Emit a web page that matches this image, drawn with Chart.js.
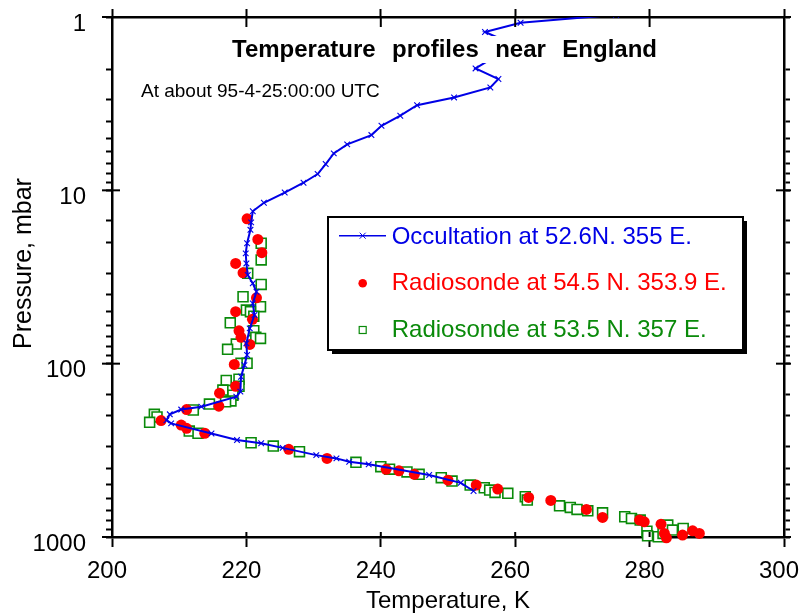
<!DOCTYPE html>
<html>
<head>
<meta charset="utf-8">
<script src="https://cdn.jsdelivr.net/npm/chart.js@4/dist/chart.umd.min.js"></script>
<style>
  html, body { margin: 0; padding: 0; background: #fff; }
  #wrap { width: 801px; height: 616px; position: relative; }
</style>
</head>
<body>
<div id="wrap"><canvas id="myChart"></canvas></div>
<script>
// occultation profile (temperature K, pressure mbar), top to bottom
const occTemp = [275.0, 260.8, 255.5, 259.9, 254.1, 257.5, 256.3, 250.9, 245.4, 242.9,
  240.1, 238.6, 235.0, 233.0, 231.8, 230.6, 228.5, 225.7, 222.6, 220.95,
  220.7, 220.6, 220.1, 219.9, 220.0, 220.2, 220.95, 221.5, 220.95, 221.2,
  220.5, 220.0, 220.1, 219.7, 219.2, 219.1, 218.5, 213.3, 210.3, 208.6,
  208.1, 208.8, 214.8, 218.6, 222.2, 225.4, 230.4, 233.4, 235.3, 238.2,
  247.2, 251.9, 253.8];
const occPres = [0.97, 1.08, 1.22, 1.45, 1.98, 2.28, 2.55, 2.91, 3.23, 3.71,
  4.24, 4.80, 5.43, 6.12, 7.05, 8.05, 9.04, 10.3, 11.8, 13.2,
  15.3, 16.9, 20.2, 23.1, 26.4, 30.8, 34.4, 38.5, 44.9, 52.4,
  62.6, 76.4, 89.2, 102, 119, 145, 155, 177, 184, 196,
  212, 221, 253, 276, 288, 306, 337, 352, 368, 381,
  439, 487, 543];

// radiosonde 54.5 N 353.9 E
const sondeATemp = [220.1, 221.7, 222.3, 218.4, 219.5, 221.5, 218.4, 220.9, 218.9, 219.2,
  220.5, 218.2, 218.4, 216.0, 215.9, 211.1, 207.3, 210.3, 211.1, 213.8,
  226.3, 232.0, 240.8, 242.7, 245.0, 250.0, 254.2, 257.4, 262.0, 265.3,
  270.6, 273.0, 278.5, 279.2, 281.7, 282.2, 282.5, 284.9, 286.4, 287.4];
const sondeAPres = [14.6, 19.2, 22.9, 26.4, 29.9, 41.7, 50.1, 55.5, 64.6, 70.5,
  77.4, 101, 135, 148, 176, 184, 213, 226, 236, 252,
  312, 352, 407, 415, 435, 470, 502, 529, 591, 615,
  693, 771, 799, 817, 843, 953, 1010, 975, 921, 953];

// radiosonde 53.5 N 357 E
const sondeBTemp = [222.2, 222.2, 220.2, 222.2, 219.5, 222.1, 220.0, 220.6, 221.1, 217.6,
  221.1, 221.4, 222.1, 218.5, 217.2, 219.2, 220.1, 218.9, 217.0, 218.9,
  216.5, 218.0, 217.7, 216.9, 214.5, 212.1, 206.3, 206.7, 205.6, 211.5,
  212.8, 220.7, 224.0, 227.9, 236.3, 240.0, 241.3, 243.9, 245.7, 249.0,
  250.6, 253.3, 255.4, 256.2, 257.0, 258.9, 261.5, 261.8, 266.6, 268.2,
  269.2, 270.8, 273.0, 276.3, 277.3, 278.6, 279.6, 279.7, 281.3, 282.0,
  282.7, 283.4, 285.0];
const sondeBPres = [20.2, 25.2, 30.1, 34.9, 41.1, 46.9, 49.1, 50.1, 53.2, 58.1,
  64.6, 70.5, 71.5, 77.1, 82.7, 99.6, 99.6, 123, 125, 135,
  142, 152, 164, 166, 171, 185, 196, 203, 218, 245,
  252, 286, 299, 322, 371, 393, 406, 421, 435, 455,
  476, 502, 520, 536, 553, 560, 586, 612, 661, 675,
  693, 706, 725, 764, 781, 799, 925, 984, 997, 953,
  853, 912, 892];

const pressureLabels = [1, 10, 100, 1000];
const seriesNames = ['Occultation at 52.6N. 355 E.', 'Radiosonde at 54.5 N. 353.9 E.', 'Radiosonde at 53.5 N. 357 E.'];

const BLUE = '#0000e6', RED = '#ff0000', GREEN = '#0a8a0a';
const FONT = "'Liberation Sans', Arial, sans-serif";
Chart.defaults.font.family = FONT;
Chart.defaults.color = '#000';

function pairs(xs, ys) {
  return xs.map((x, i) => ({ x: x, y: ys[i] }));
}

function line(ctx, x1, y1, x2, y2) {
  ctx.beginPath();
  ctx.moveTo(x1, y1);
  ctx.lineTo(x2, y2);
  ctx.stroke();
}

// fixed box sizes, no edge padding from overhanging labels
function fixBox(w, h) {
  return s => {
    if (w !== null) s.width = w;
    if (h !== null) s.height = h;
    s.paddingTop = 0; s.paddingBottom = 0; s.paddingLeft = 0; s.paddingRight = 0;
  };
}

// inner/crossing ticks, title, note, y title and the boxed legend
const decor = {
  id: 'decor',
  afterDraw(chart) {
    const { ctx, chartArea: a, scales } = chart;
    ctx.save();
    ctx.strokeStyle = '#000';
    ctx.lineWidth = 2;
    scales.x.ticks.forEach(t => {
      const px = scales.x.getPixelForValue(t.value);
      line(ctx, px, a.bottom, px, a.bottom - 5);
      line(ctx, px, a.top, px, a.top + 10);
    });
    pressureLabels.forEach(v => {
      const py = scales.y.getPixelForValue(v);
      line(ctx, a.left - 10, py, a.left + 8, py);
      line(ctx, a.right - 8, py, a.right + 7, py);
    });

    // title with white backing, words spread out
    ctx.font = 'bold 24px ' + FONT;
    const words = 'Temperature profiles near England'.split(' ');
    const left = 232, right = 657;
    const widths = words.map(w => ctx.measureText(w).width);
    const gap = (right - left - widths.reduce((s, w) => s + w, 0)) / (words.length - 1);
    ctx.fillStyle = '#fff';
    ctx.fillRect(left - 4, 36, right - left + 8, 27);
    ctx.fillStyle = '#000';
    ctx.textAlign = 'left';
    ctx.textBaseline = 'alphabetic';
    let wx = left;
    words.forEach((w, i) => {
      ctx.fillText(w, wx, 56.5);
      wx += widths[i] + gap;
    });

    ctx.font = '19px ' + FONT;
    ctx.fillText('At about 95-4-25:00:00 UTC', 141, 96.5);

    // y axis title
    ctx.save();
    ctx.translate(31, 263.5);
    ctx.rotate(-Math.PI / 2);
    ctx.font = '25px ' + FONT;
    ctx.textAlign = 'center';
    ctx.fillText('Pressure, mbar', 0, 0);
    ctx.restore();

    // legend box with shadow
    const bx = 328, by = 217, bw = 415, bh = 133;
    ctx.fillStyle = '#000';
    ctx.fillRect(bx + 4, by + 4, bw, bh);
    ctx.fillStyle = '#fff';
    ctx.fillRect(bx, by, bw, bh);
    ctx.lineWidth = 2;
    ctx.strokeRect(bx, by, bw, bh);

    const ds = chart.data.datasets;
    const mx = 362.7;
    // occultation sample
    ctx.strokeStyle = BLUE;
    ctx.lineWidth = 1.5;
    line(ctx, 339, 235.7, 386, 235.7);
    ctx.lineWidth = 1;
    line(ctx, mx - 3, 232.7, mx + 3, 238.7);
    line(ctx, mx - 3, 238.7, mx + 3, 232.7);
    // red dot
    ctx.fillStyle = RED;
    ctx.beginPath();
    ctx.arc(mx, 283.3, 4.3, 0, Math.PI * 2);
    ctx.fill();
    // green square
    ctx.strokeStyle = GREEN;
    ctx.lineWidth = 1.2;
    ctx.strokeRect(mx - 3.5, 326.5, 7, 7);

    ctx.font = '24px ' + FONT;
    ctx.textAlign = 'left';
    const ys = [244, 290, 337];
    const cols = [BLUE, RED, GREEN];
    ds.forEach((d, i) => {
      ctx.fillStyle = cols[i];
      ctx.fillText(d.label, 391.7, ys[i]);
    });
    ctx.restore();
  }
};

new Chart(document.getElementById('myChart'), {
  type: 'scatter',
  data: {
    datasets: [
      {
        label: seriesNames[0],
        data: pairs(occTemp, occPres),
        showLine: true,
        borderColor: BLUE,
        backgroundColor: BLUE,
        borderWidth: 2,
        pointStyle: 'crossRot',
        pointRadius: 4,
        pointBorderWidth: 1.1,
        pointBorderColor: BLUE,
        tension: 0
      },
      {
        label: seriesNames[1],
        data: pairs(sondeATemp, sondeAPres),
        showLine: false,
        pointStyle: 'circle',
        pointRadius: 5.5,
        pointBackgroundColor: RED,
        pointBorderColor: RED,
        pointBorderWidth: 0,
        clip: false
      },
      {
        label: seriesNames[2],
        data: pairs(sondeBTemp, sondeBPres),
        showLine: false,
        pointStyle: 'rect',
        pointRadius: 7,
        pointBackgroundColor: '#fff',
        pointBorderColor: GREEN,
        pointBorderWidth: 1.6,
        clip: false
      }
    ]
  },
  options: {
    responsive: true,
    maintainAspectRatio: false,
    animation: false,
    events: [],
    layout: { padding: 0 },
    plugins: { legend: { display: false }, tooltip: { enabled: false }, title: { display: false } },
    scales: {
      x: {
        type: 'linear', position: 'bottom', min: 200, max: 300,
        afterFit: fixBox(null, 79),
        border: { color: '#000', width: 2.5 },
        grid: { drawOnChartArea: false, drawTicks: true, tickLength: 10, tickColor: '#000', tickWidth: 2 },
        ticks: { stepSize: 20, color: '#000', font: { size: 24 }, padding: 10, labelOffset: -5, maxRotation: 0, autoSkip: false },
        title: { display: true, text: 'Temperature, K', color: '#000', font: { size: 24 }, padding: { top: 0, bottom: 0 } }
      },
      x2: {
        type: 'linear', position: 'top', min: 200, max: 300,
        afterFit: fixBox(null, 17),
        border: { color: '#000', width: 2.5 },
        grid: { drawOnChartArea: false, drawTicks: true, tickLength: 8, tickColor: '#000', tickWidth: 2 },
        ticks: { stepSize: 20, display: false, autoSkip: false }
      },
      y: {
        type: 'logarithmic', position: 'left', reverse: true, min: 1, max: 1000,
        afterFit: fixBox(112, null),
        border: { color: '#000', width: 2.5 },
        grid: { drawOnChartArea: false, drawTicks: true, tickLength: 6, tickColor: '#000', tickWidth: 2 },
        ticks: {
          autoSkip: false, color: '#000', font: { size: 24 }, padding: 20, labelOffset: 7,
          callback: v => pressureLabels.includes(v) ? String(v) : ''
        }
      },
      y2: {
        type: 'logarithmic', position: 'right', reverse: true, min: 1, max: 1000,
        afterFit: fixBox(17, null),
        border: { color: '#000', width: 2.5 },
        grid: { drawOnChartArea: false, drawTicks: true, tickLength: 6, tickColor: '#000', tickWidth: 2 },
        ticks: { display: false, autoSkip: false }
      }
    }
  },
  plugins: [decor]
});
</script>
</body>
</html>
